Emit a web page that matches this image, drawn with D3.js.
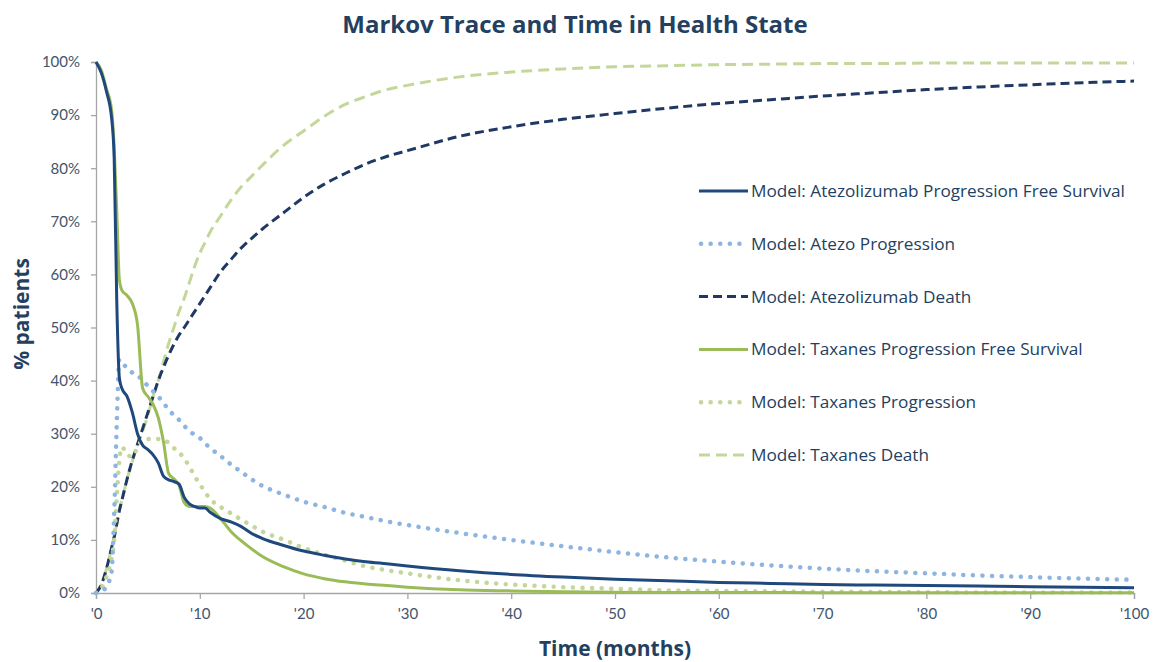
<!DOCTYPE html>
<html>
<head>
<meta charset="utf-8">
<script src="https://cdn.jsdelivr.net/npm/d3@7"></script>
<style>
  body { margin: 0; background: #fff; }
  svg text { font-family: "Open Sans", Lato, sans-serif; }
</style>
</head>
<body>
<script>
'use strict';

const months = [0, 0.5, 1, 1.5, 1.75, 2, 2.25, 2.5, 3, 3.5, 4, 4.5, 5, 5.5, 6, 6.5, 7, 7.5, 8, 8.5,
  9, 9.5, 10, 10.5, 11, 12, 13, 14, 15, 16, 18, 20, 22, 24, 26, 28, 30, 35, 40, 45,
  50, 55, 60, 65, 70, 75, 80, 85, 90, 95, 100];

// % patients per health state
const atezoPFS = [100, 98, 94.5, 89.5, 82, 55, 40.5, 38.5, 37, 34, 30, 27.8, 27, 26, 24.5, 22, 21.3, 21, 20.5, 18,
  16.8, 16.3, 16, 16, 15.2, 14, 13.4, 12.5, 11.2, 10.3, 9, 7.9, 7.1, 6.4, 5.9, 5.5, 5.1, 4.2, 3.5, 3,
  2.6, 2.3, 2.0, 1.8, 1.6, 1.5, 1.4, 1.3, 1.2, 1.1, 1.0];
const atezoProg = [0, 0.3, 1.2, 4, 15, 32, 44, 43.5, 42.3, 41.5, 41, 40, 39, 38, 37, 35.8, 34.5, 33.5, 32.6, 31.5,
  30.5, 29.8, 29.2, 28.2, 27.3, 25.8, 24.2, 22.8, 21.4, 20.2, 18.6, 17.2, 16.2, 15.1, 14.3, 13.5, 12.8, 11.3, 10, 8.8,
  7.7, 6.7, 5.9, 5.2, 4.6, 4.1, 3.7, 3.3, 3.0, 2.7, 2.5];
const atezoDeath = [0, 1.5, 4.5, 8.5, 10.5, 13, 15.5, 17.5, 21.5, 25, 28, 31, 34, 37, 40, 42.5, 44.8, 46.8, 48.6, 50,
  51.5, 53, 54.5, 56, 57.5, 60.5, 62.8, 65, 66.8, 68.5, 71.5, 74.5, 77, 79, 80.8, 82.2, 83.3, 86, 87.8, 89.2,
  90.3, 91.3, 92.2, 92.9, 93.6, 94.2, 94.8, 95.3, 95.7, 96.1, 96.4];
const taxPFS = [100, 98.5, 95, 91, 84, 72, 59, 57, 56, 54.5, 50.5, 38.5, 37, 35.5, 33, 28.5, 22.5, 21.5, 20.3, 17,
  16.3, 16.3, 16.3, 16.3, 16, 14, 11.6, 9.8, 8.3, 6.9, 5, 3.6, 2.7, 2.1, 1.7, 1.4, 1.1, 0.6, 0.4, 0.25,
  0.15, 0.1, 0.1, 0.08, 0.06, 0.05, 0.05, 0.05, 0.05, 0.05, 0.05];
const taxProg = [0, 0.8, 3, 6.5, 10, 18, 25, 27.5, 26, 25.7, 27.5, 28.8, 29, 29, 29, 28.8, 28.3, 27.3, 26.5, 25.3,
  23.8, 22, 20.5, 19, 17.7, 16.2, 15, 13.8, 12.7, 11.6, 10.1, 8.5, 7.2, 6.1, 5, 4.3, 3.7, 2.4, 1.6, 1.1,
  0.8, 0.5, 0.4, 0.3, 0.25, 0.2, 0.15, 0.1, 0.1, 0.1, 0.1];
const taxDeath = [0, 1.5, 4.5, 8.5, 10.5, 13, 15.5, 17.5, 21.5, 24.8, 28, 30.5, 33.5, 37, 40, 43.5, 47, 50, 53, 55.5,
  58.5, 61.5, 64, 66, 68, 71, 74, 76.5, 78.5, 80.5, 84.2, 87, 89.8, 92, 93.5, 94.8, 95.6, 97.2, 98.1, 98.7,
  99.1, 99.3, 99.5, 99.6, 99.7, 99.7, 99.8, 99.8, 99.8, 99.8, 99.8];

const seriesNames = [
  'Model: Atezolizumab Progression Free Survival',
  'Model: Atezo Progression',
  'Model: Atezolizumab Death',
  'Model: Taxanes Progression Free Survival',
  'Model: Taxanes Progression',
  'Model: Taxanes Death'
];
const xTicks = [0, 10, 20, 30, 40, 50, 60, 70, 80, 90, 100];
const yTicks = [0, 10, 20, 30, 40, 50, 60, 70, 80, 90, 100];

const seriesValues = [atezoPFS, atezoProg, atezoDeath, taxPFS, taxProg, taxDeath];
// line styles: colour, width, dash pattern
const styles = [
  { color: '#1F497D', width: 3, dash: null, cap: 'butt' },
  { color: '#8DB4E2', width: 4.5, dash: '0.1 9.5', cap: 'round' },
  { color: '#1F3864', width: 3, dash: '9 5', cap: 'butt' },
  { color: '#9BBB59', width: 3, dash: null, cap: 'butt' },
  { color: '#C4D79B', width: 4.5, dash: '0.1 9.5', cap: 'round' },
  { color: '#C4D79B', width: 3, dash: '11 6', cap: 'butt' }
];

const width = 1157, height = 662;
const svg = d3.select('body').append('svg')
  .attr('width', width)
  .attr('height', height);

const xScale = d3.scaleLinear().domain([0, 100]).range([96, 1134]);
const yScale = d3.scaleLinear().domain([0, 100]).range([593, 62]);

// title
svg.append('text')
  .attr('x', 575)
  .attr('y', 33)
  .attr('text-anchor', 'middle')
  .style('font-size', '24px')
  .style('font-weight', 'bold')
  .style('fill', '#243F60')
  .text('Markov Trace and Time in Health State');

// axes
const axisColor = '#A6A6A6';
const tickColor = '#44546A';

const yAxis = d3.axisLeft(yScale).tickValues(yTicks).tickSize(5).tickPadding(11)
  .tickFormat(d => d + '%');
const gy = svg.append('g').attr('transform', 'translate(96,0)').call(yAxis);

const xAxis = d3.axisBottom(xScale).tickValues(xTicks).tickSize(6).tickPadding(9)
  .tickFormat(d => "'" + d);
const gx = svg.append('g').attr('transform', 'translate(0,593)').call(xAxis);

[gx, gy].forEach(g => {
  g.select('.domain').attr('stroke', axisColor).attr('stroke-width', 1.3);
  g.selectAll('.tick line').attr('stroke', axisColor).attr('stroke-width', 1.3);
  g.selectAll('.tick text')
    .style('font-size', '15px')
    .style('fill', tickColor)
    .style('font-family', 'Lato, sans-serif');
});
gx.selectAll('.tick text').attr('dy', '0.75em');

// axis titles
svg.append('text')
  .attr('x', 615)
  .attr('y', 656)
  .attr('text-anchor', 'middle')
  .style('font-size', '21px')
  .style('font-weight', 'bold')
  .style('fill', '#243F60')
  .text('Time (months)');

svg.append('text')
  .attr('transform', 'translate(29, 314)rotate(-90)')
  .attr('text-anchor', 'middle')
  .style('font-size', '21px')
  .style('font-weight', 'bold')
  .style('fill', '#243F60')
  .text('% patients');

// lines
const line = d3.line()
  .x((d, i) => xScale(months[i]))
  .y(d => yScale(d))
  .curve(d3.curveMonotoneX);

// draw so the order matches the original stacking
const drawOrder = [5, 2, 4, 1, 3, 0];
drawOrder.forEach(k => {
  const st = styles[k];
  svg.append('path')
    .datum(seriesValues[k])
    .attr('d', line)
    .attr('fill', 'none')
    .attr('stroke', st.color)
    .attr('stroke-width', st.width)
    .attr('stroke-linecap', st.cap)
    .attr('stroke-linejoin', 'round')
    .attr('stroke-dasharray', st.dash);
});

// legend
const legend = svg.append('g');
seriesNames.forEach((name, i) => {
  const st = styles[i];
  const y = 191 + i * 52.8;
  legend.append('line')
    .attr('x1', st.cap === 'round' ? 701 : 699)
    .attr('x2', 748)
    .attr('y1', y)
    .attr('y2', y)
    .attr('stroke', st.color)
    .attr('stroke-width', st.width)
    .attr('stroke-linecap', st.cap)
    .attr('stroke-dasharray', st.dash);
  legend.append('text')
    .attr('x', 751)
    .attr('y', y)
    .attr('dy', '0.35em')
    .style('font-size', '17.2px')
    .style('fill', '#243F60')
    .text(name);
});
</script>
</body>
</html>
